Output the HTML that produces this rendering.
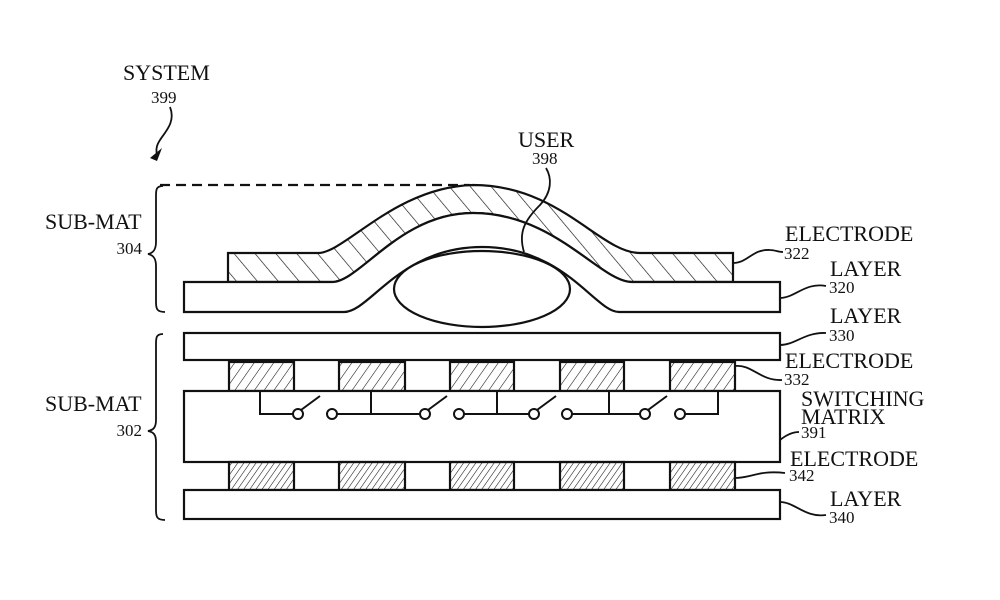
<!DOCTYPE html>
<html><head><meta charset="utf-8"><style>
html,body{margin:0;padding:0;background:#fff;}
svg{display:block;}
text{font-family:"Liberation Serif",serif;fill:#111;}
</style></head><body>
<svg width="1000" height="600" viewBox="0 0 1000 600" xmlns="http://www.w3.org/2000/svg">
<defs>
<pattern id="h1" patternUnits="userSpaceOnUse" width="16" height="16" patternTransform="rotate(-40)">
<line x1="0" y1="0" x2="0" y2="16" stroke="#111" stroke-width="1.3"/></pattern>
<pattern id="h2" patternUnits="userSpaceOnUse" width="8" height="8" patternTransform="rotate(35)">
<line x1="0" y1="0" x2="0" y2="8" stroke="#111" stroke-width="1.1"/></pattern>
<pattern id="h3" patternUnits="userSpaceOnUse" width="5" height="5" patternTransform="rotate(35)">
<line x1="0" y1="0" x2="0" y2="5" stroke="#111" stroke-width="1.1"/></pattern>
</defs>
<g fill="none" stroke="#111" stroke-width="2.2">
<line x1="160" y1="185" x2="470" y2="185" stroke-dasharray="10,6"/>
<path d="M228,282 L228,253 L318,253 C345,253 395,187 473,185 C560,185 600,253 640,253 L733,253 L733,282 L632,282 C600,282 555,213 473,213 C400,213 360,282 332,282 Z" fill="url(#h1)"/>
<path d="M184,282 L332,282 C360,282 400,213 473,213 C555,213 600,282 632,282 L780,282 L780,312 L619,312 C595,312 565,247 482,247 C400,247 370,312 344,312 L184,312 Z" fill="#fff"/>
<ellipse cx="482" cy="289" rx="88" ry="38" fill="#fff"/>
<rect x="184" y="333" width="596" height="27" fill="#fff"/>
<g fill="url(#h2)">
<rect x="229" y="362" width="65" height="29"/><rect x="339" y="362" width="66" height="29"/>
<rect x="450" y="362" width="64" height="29"/><rect x="560" y="362" width="64" height="29"/>
<rect x="670" y="362" width="65" height="29"/></g>
<rect x="184" y="391" width="596" height="71" fill="#fff"/>
<g fill="url(#h3)">
<rect x="229" y="462" width="65" height="28"/><rect x="339" y="462" width="66" height="28"/>
<rect x="450" y="462" width="64" height="28"/><rect x="560" y="462" width="64" height="28"/>
<rect x="670" y="462" width="65" height="28"/></g>
<rect x="184" y="490" width="596" height="29" fill="#fff"/>
</g>
<g fill="#fff" stroke="#111" stroke-width="2">
<path d="M260,391 V414 H293 M337,414 H371 V391 M371,414 H420 M464,414 H497 V391 M497,414 H529 M572,414 H609 V391 M609,414 H640 M685,414 H718 V391" fill="none"/>
<circle cx="298" cy="414" r="5"/><circle cx="332" cy="414" r="5"/>
<circle cx="425" cy="414" r="5"/><circle cx="459" cy="414" r="5"/>
<circle cx="534" cy="414" r="5"/><circle cx="567" cy="414" r="5"/>
<circle cx="645" cy="414" r="5"/><circle cx="680" cy="414" r="5"/>
<path d="M301,410 L320,396 M428,410 L447,396 M537,410 L556,396 M648,410 L667,396" fill="none"/>
</g>
<g fill="none" stroke="#111" stroke-width="1.8">
<path d="M163,186 C156,186 156,190 156,196 L156,242 C156,250 153,253 148,254 C153,255 156,258 156,266 L156,302 C156,309 157,312 165,312"/>
<path d="M163,334 C156,334 156,338 156,344 L156,420 C156,428 153,430 148,431 C153,432 156,434 156,442 L156,510 C156,517 157,520 165,520"/>
<path d="M170,107 C176,122 165,132 160,140 C156,146 156,150 157,156"/>
<path d="M546,168 C552,178 552,192 540,205 C525,220 518,232 524,252"/>
<path d="M733,263 C748,263 752,249 770,250 C775,250 778,252 783,252"/>
<path d="M780,298 C795,298 805,282 826,286"/>
<path d="M780,345 C795,345 805,332 826,333"/>
<path d="M735,366 C752,364 760,381 782,380"/>
<path d="M780,440 C785,436 792,432 799,432"/>
<path d="M735,478 C752,478 758,470 785,473"/>
<path d="M780,502 C795,502 805,518 826,515"/>
</g>
<path d="M150,158 L162,148 L157,161 Z" fill="#111"/>
<g font-size="22">
<text x="123" y="80">SYSTEM</text>
<text x="45" y="229">SUB-MAT</text>
<text x="45" y="411">SUB-MAT</text>
<text x="518" y="147">USER</text>
<text x="785" y="241">ELECTRODE</text>
<text x="830" y="276">LAYER</text>
<text x="830" y="323">LAYER</text>
<text x="785" y="368">ELECTRODE</text>
<text x="801" y="406">SWITCHING</text>
<text x="801" y="424">MATRIX</text>
<text x="790" y="466">ELECTRODE</text>
<text x="830" y="506">LAYER</text>
</g>
<g font-size="17">
<text x="151" y="103">399</text>
<text x="142" y="254" text-anchor="end">304</text>
<text x="142" y="436" text-anchor="end">302</text>
<text x="532" y="164">398</text>
<text x="784" y="259">322</text>
<text x="829" y="293">320</text>
<text x="829" y="341">330</text>
<text x="784" y="385">332</text>
<text x="801" y="438">391</text>
<text x="789" y="481">342</text>
<text x="829" y="523">340</text>
</g>
</svg>
</body></html>
